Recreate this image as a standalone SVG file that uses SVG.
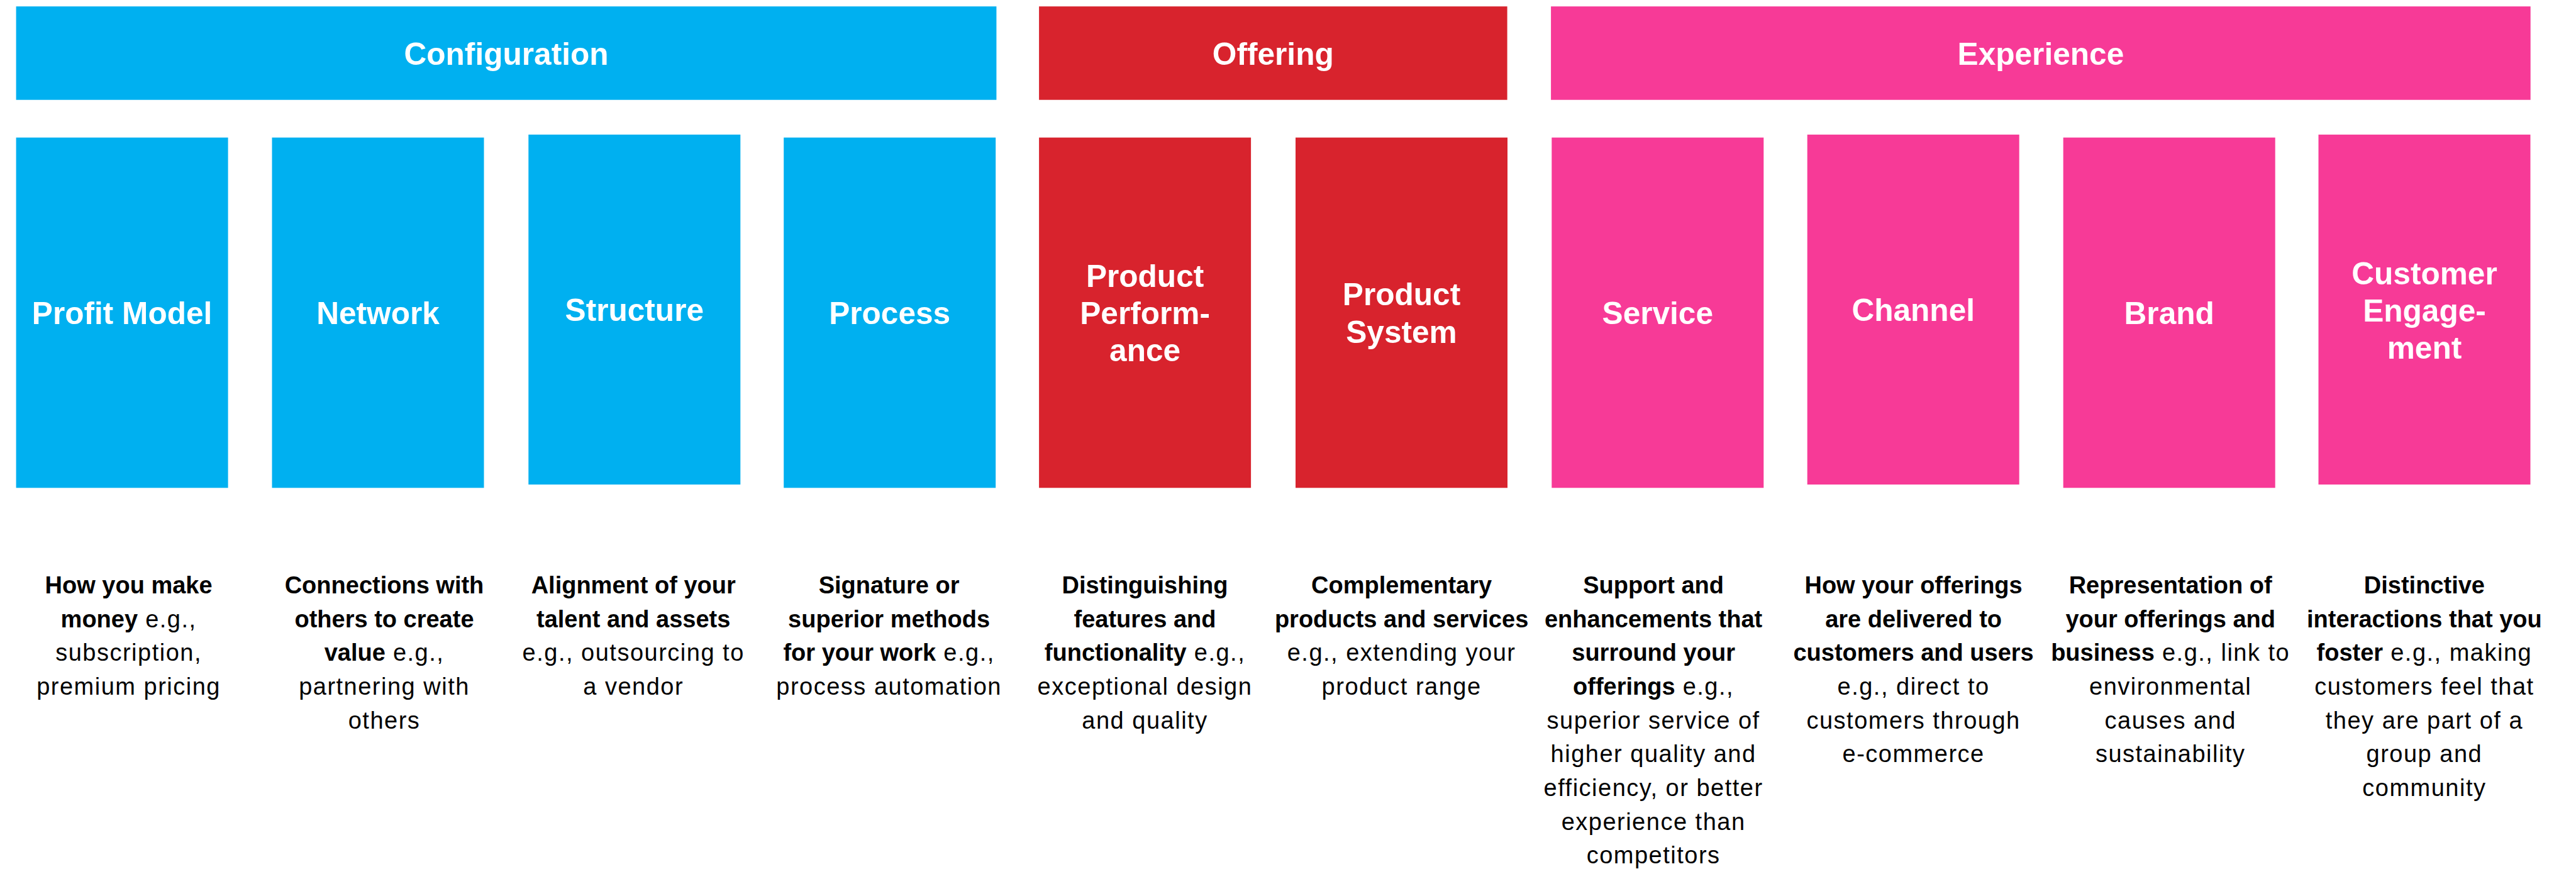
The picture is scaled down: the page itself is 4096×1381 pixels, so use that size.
<svg xmlns="http://www.w3.org/2000/svg" width="4096" height="1381" viewBox="0 0 4096 1381">
  <style>
    .cfg { fill: #00B0F0; }
    .off { fill: #D8232D; }
    .exp { fill: #F73A97; }
    .lbl { font-family: 'Liberation Sans', Arial, sans-serif; font-weight: 700; font-size: 49.6px; fill: #FFFFFF; text-anchor: middle; }
    .desc { font-family: 'Liberation Sans', Arial, sans-serif; font-weight: 400; font-size: 38px; fill: #000000; text-anchor: middle; letter-spacing: 1.5px; }
    .desc .b { font-weight: 700; letter-spacing: 0; }
  </style>

  <rect width="4096" height="1381" fill="#FFFFFF"/>

  <!-- Category header bars -->
  <g id="header-configuration">
    <rect class="cfg" x="25.6" y="10.2" width="1558.8" height="148.5"/>
    <text class="lbl" x="805" y="103">Configuration</text>
  </g>
  <g id="header-offering">
    <rect class="off" x="1652.1" y="10.2" width="744.5" height="148.5"/>
    <text class="lbl" x="2024.3" y="103">Offering</text>
  </g>
  <g id="header-experience">
    <rect class="exp" x="2466.1" y="10.2" width="1557.6" height="148.5"/>
    <text class="lbl" x="3244.9" y="103">Experience</text>
  </g>

  <!-- Ten innovation type columns -->
  <g id="node-profit-model">
    <rect class="cfg" x="25.6" y="218.6" width="337" height="556.7"/>
    <text class="lbl" x="194.1" y="515">Profit Model</text>
  </g>
  <g id="node-network">
    <rect class="cfg" x="432.5" y="218.6" width="337" height="556.7"/>
    <text class="lbl" x="601" y="515">Network</text>
  </g>
  <g id="node-structure">
    <rect class="cfg" x="840.3" y="213.9" width="337" height="556.1"/>
    <text class="lbl" x="1008.8" y="510.3">Structure</text>
  </g>
  <g id="node-process">
    <rect class="cfg" x="1246.2" y="218.6" width="337" height="556.7"/>
    <text class="lbl" x="1414.7" y="515">Process</text>
  </g>
  <g id="node-product-performance">
    <rect class="off" x="1652.1" y="218.6" width="337" height="556.7"/>
    <text class="lbl" x="1820.6" y="455.6">Product</text>
    <text class="lbl" x="1820.6" y="514.8">Perform-</text>
    <text class="lbl" x="1820.6" y="574">ance</text>
  </g>
  <g id="node-product-system">
    <rect class="off" x="2060" y="218.6" width="337" height="556.7"/>
    <text class="lbl" x="2228.5" y="485">Product</text>
    <text class="lbl" x="2228.5" y="544.6">System</text>
  </g>
  <g id="node-service">
    <rect class="exp" x="2467.3" y="218.6" width="337" height="556.7"/>
    <text class="lbl" x="2635.8" y="515">Service</text>
  </g>
  <g id="node-channel">
    <rect class="exp" x="2873.7" y="213.9" width="337" height="556.1"/>
    <text class="lbl" x="3042.2" y="510.3">Channel</text>
  </g>
  <g id="node-brand">
    <rect class="exp" x="3280.7" y="218.6" width="337" height="556.7"/>
    <text class="lbl" x="3449.2" y="515">Brand</text>
  </g>
  <g id="node-customer-engagement">
    <rect class="exp" x="3686.5" y="213.9" width="337" height="556.1"/>
    <text class="lbl" x="3855" y="451.8">Customer</text>
    <text class="lbl" x="3855" y="511">Engage-</text>
    <text class="lbl" x="3855" y="570.2">ment</text>
  </g>

  <!-- Descriptions under each column -->
  <g id="desc-profit-model" class="desc">
    <text x="204.6" y="943"><tspan class="b">How you make</tspan></text>
    <text x="204.6" y="996.7"><tspan class="b">money</tspan> e.g.,</text>
    <text x="204.6" y="1050.3">subscription,</text>
    <text x="204.6" y="1104">premium pricing</text>
  </g>
  <g id="desc-network" class="desc">
    <text x="611" y="943"><tspan class="b">Connections with</tspan></text>
    <text x="611" y="996.7"><tspan class="b">others to create</tspan></text>
    <text x="611" y="1050.3"><tspan class="b">value</tspan> e.g.,</text>
    <text x="611" y="1104">partnering with</text>
    <text x="611" y="1157.6">others</text>
  </g>
  <g id="desc-structure" class="desc">
    <text x="1007.2" y="943"><tspan class="b">Alignment of your</tspan></text>
    <text x="1007.2" y="996.7"><tspan class="b">talent and assets</tspan></text>
    <text x="1007.2" y="1050.3">e.g., outsourcing to</text>
    <text x="1007.2" y="1104">a vendor</text>
  </g>
  <g id="desc-process" class="desc">
    <text x="1413.6" y="943"><tspan class="b">Signature or</tspan></text>
    <text x="1413.6" y="996.7"><tspan class="b">superior methods</tspan></text>
    <text x="1413.6" y="1050.3"><tspan class="b">for your work</tspan> e.g.,</text>
    <text x="1413.6" y="1104">process automation</text>
  </g>
  <g id="desc-product-performance" class="desc">
    <text x="1820.5" y="943"><tspan class="b">Distinguishing</tspan></text>
    <text x="1820.5" y="996.7"><tspan class="b">features and</tspan></text>
    <text x="1820.5" y="1050.3"><tspan class="b">functionality</tspan> e.g.,</text>
    <text x="1820.5" y="1104">exceptional design</text>
    <text x="1820.5" y="1157.6">and quality</text>
  </g>
  <g id="desc-product-system" class="desc">
    <text x="2228.6" y="943"><tspan class="b">Complementary</tspan></text>
    <text x="2228.6" y="996.7"><tspan class="b">products and services</tspan></text>
    <text x="2228.6" y="1050.3">e.g., extending your</text>
    <text x="2228.6" y="1104">product range</text>
  </g>
  <g id="desc-service" class="desc">
    <text x="2629.1" y="943"><tspan class="b">Support and</tspan></text>
    <text x="2629.1" y="996.7"><tspan class="b">enhancements that</tspan></text>
    <text x="2629.1" y="1050.3"><tspan class="b">surround your</tspan></text>
    <text x="2629.1" y="1104"><tspan class="b">offerings</tspan> e.g.,</text>
    <text x="2629.1" y="1157.6">superior service of</text>
    <text x="2629.1" y="1211.3">higher quality and</text>
    <text x="2629.1" y="1264.9">efficiency, or better</text>
    <text x="2629.1" y="1318.6">experience than</text>
    <text x="2629.1" y="1372.2">competitors</text>
  </g>
  <g id="desc-channel" class="desc">
    <text x="3042.6" y="943"><tspan class="b">How your offerings</tspan></text>
    <text x="3042.6" y="996.7"><tspan class="b">are delivered to</tspan></text>
    <text x="3042.6" y="1050.3"><tspan class="b">customers and users</tspan></text>
    <text x="3042.6" y="1104">e.g., direct to</text>
    <text x="3042.6" y="1157.6">customers through</text>
    <text x="3042.6" y="1211.3">e-commerce</text>
  </g>
  <g id="desc-brand" class="desc">
    <text x="3451.2" y="943"><tspan class="b">Representation of</tspan></text>
    <text x="3451.2" y="996.7"><tspan class="b">your offerings and</tspan></text>
    <text x="3451.2" y="1050.3"><tspan class="b">business</tspan> e.g., link to</text>
    <text x="3451.2" y="1104">environmental</text>
    <text x="3451.2" y="1157.6">causes and</text>
    <text x="3451.2" y="1211.3">sustainability</text>
  </g>
  <g id="desc-customer-engagement" class="desc">
    <text x="3854.9" y="943"><tspan class="b">Distinctive</tspan></text>
    <text x="3854.9" y="996.7"><tspan class="b">interactions that you</tspan></text>
    <text x="3854.9" y="1050.3"><tspan class="b">foster</tspan> e.g., making</text>
    <text x="3854.9" y="1104">customers feel that</text>
    <text x="3854.9" y="1157.6">they are part of a</text>
    <text x="3854.9" y="1211.3">group and</text>
    <text x="3854.9" y="1264.9">community</text>
  </g>

  <!-- No links between the columns -->
  <g id="connectors"/>
</svg>
